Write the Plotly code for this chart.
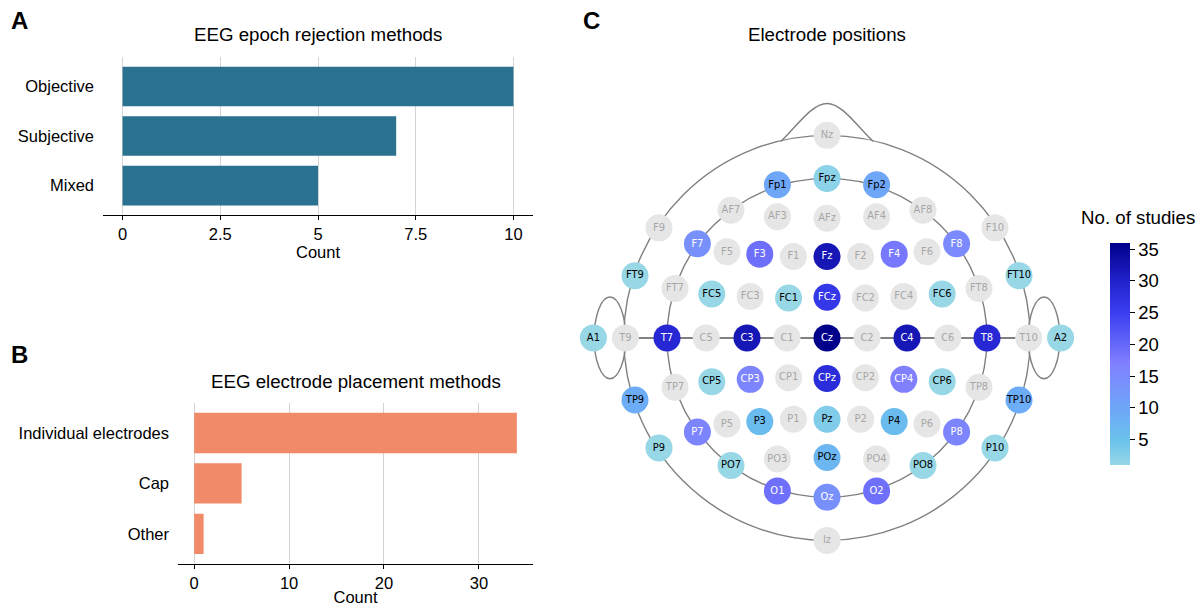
import plotly.graph_objects as go

# ---------------- data ----------------
A_categories = ["Objective", "Subjective", "Mixed"]
A_counts = [10, 7, 5]

B_categories = ["Individual electrodes", "Cap", "Other"]
B_counts = [34, 5, 1]

A_ticks = [0, 2.5, 5, 7.5, 10]
A_ticktext = ["0", "2.5", "5", "7.5", "10"]
B_ticks = [0, 10, 20, 30]
cbar_ticks = [5, 10, 15, 20, 25, 30, 35]

# electrode layout (head units: inner circle radius = 1)
el_names = ["Nz", "Fpz", "Fp1", "Fp2", "AF7", "AF3", "AFz", "AF4", "AF8",
            "F9", "F7", "F5", "F3", "F1", "Fz", "F2", "F4", "F6", "F8", "F10",
            "FT9", "FT7", "FC5", "FC3", "FC1", "FCz", "FC2", "FC4", "FC6", "FT8", "FT10",
            "A1", "T9", "T7", "C5", "C3", "C1", "Cz", "C2", "C4", "C6", "T8", "T10", "A2",
            "TP9", "TP7", "CP5", "CP3", "CP1", "CPz", "CP2", "CP4", "CP6", "TP8", "TP10",
            "P9", "P7", "P5", "P3", "P1", "Pz", "P2", "P4", "P6", "P8", "P10",
            "PO7", "PO3", "POz", "PO4", "PO8", "O1", "Oz", "O2", "Iz"]
el_x = [0, 0, -0.31, 0.31, -0.60, -0.31, 0, 0.31, 0.60,
        -1.05, -0.81, -0.625, -0.42, -0.21, 0, 0.21, 0.42, 0.625, 0.81, 1.05,
        -1.20, -0.95, -0.72, -0.48, -0.24, 0, 0.24, 0.48, 0.72, 0.95, 1.20,
        -1.46, -1.26, -1.0, -0.755, -0.5, -0.25, 0, 0.25, 0.5, 0.755, 1.0, 1.26, 1.46,
        -1.20, -0.95, -0.72, -0.48, -0.24, 0, 0.24, 0.48, 0.72, 0.95, 1.20,
        -1.05, -0.81, -0.625, -0.42, -0.21, 0, 0.21, 0.42, 0.625, 0.81, 1.05,
        -0.60, -0.31, 0, 0.31, 0.60, -0.31, 0, 0.31, 0]
el_y = [1.27, 1.0, 0.96, 0.96, 0.80, 0.76, 0.75, 0.76, 0.80,
        0.69, 0.59, 0.54, 0.525, 0.51, 0.51, 0.51, 0.525, 0.54, 0.59, 0.69,
        0.39, 0.31, 0.275, 0.26, 0.25, 0.255, 0.25, 0.26, 0.275, 0.31, 0.39,
        0, 0, 0, 0, 0, 0, 0, 0, 0, 0, 0, 0, 0,
        -0.39, -0.31, -0.275, -0.26, -0.25, -0.255, -0.25, -0.26, -0.275, -0.31, -0.39,
        -0.69, -0.59, -0.54, -0.525, -0.51, -0.51, -0.51, -0.525, -0.54, -0.59, -0.69,
        -0.80, -0.76, -0.75, -0.76, -0.80, -0.96, -1.0, -0.96, -1.27]

# number of studies per electrode (electrodes not listed: not used)
el_studies = {
    "Fpz": 2, "Fp1": 10, "Fp2": 10,
    "F7": 14, "F3": 19, "Fz": 32, "F4": 18, "F8": 15,
    "FT9": 1, "FT10": 1, "FC5": 1, "FC1": 1, "FCz": 26, "FC6": 1,
    "A1": 1, "T7": 29, "C3": 32, "Cz": 36, "C4": 32, "T8": 29, "A2": 1,
    "TP9": 9, "TP10": 9, "CP5": 1, "CP3": 16, "CPz": 28, "CP4": 17, "CP6": 1,
    "P9": 1, "P7": 16, "P3": 6, "Pz": 3, "P4": 6, "P8": 16, "P10": 1,
    "PO7": 1, "POz": 7, "PO8": 1,
    "O1": 19, "Oz": 14, "O2": 19,
}

# ---------------- style ----------------
W, H = 1200, 606
FONT = "Liberation Sans, Arial, Helvetica, sans-serif"
EL_FONT = "DejaVu Sans Condensed, Liberation Sans Narrow, DejaVu Sans Mono, sans-serif"
TICK_SIZE = 16.5
TITLE_SIZE = 18.7
colorscale = [
    [0.0, "#97d7e6"],
    [0.114, "#6ac2ec"],
    [0.257, "#6ea6f8"],
    [0.457, "#8080ff"],
    [0.686, "#3a3ef0"],
    [0.829, "#2222cc"],
    [1.0, "#00008b"],
]
CMIN, CMAX = 1, 36


def px_x(p):
    return p / W


def px_y(p):
    return 1 - p / H


fig = go.Figure()

# Panel A
fig.add_trace(go.Bar(x=A_counts, y=A_categories, orientation="h", width=0.8,
                     marker=dict(color="#2b7190", line=dict(width=0)),
                     xaxis="x", yaxis="y", hoverinfo="skip"))
# Panel B
fig.add_trace(go.Bar(x=B_counts, y=B_categories, orientation="h", width=0.8,
                     marker=dict(color="#f18a68", line=dict(width=0)),
                     xaxis="x2", yaxis="y2", hoverinfo="skip"))

# Panel C electrodes
gx, gy, gt = [], [], []
cx, cy, ct, cv, tc = [], [], [], [], []
for n, x, y in zip(el_names, el_x, el_y):
    v = el_studies.get(n)
    if v is None:
        gx.append(x); gy.append(y); gt.append(n)
    else:
        cx.append(x); cy.append(y); ct.append(n); cv.append(v)
        tc.append("white" if v >= 12 else "black")

fig.add_trace(go.Scatter(x=gx, y=gy, text=gt, mode="markers+text",
                         marker=dict(size=27, color="#e6e6e6", line=dict(width=0)),
                         textfont=dict(family=EL_FONT, size=11, color="#a6a6a6"),
                         textposition="middle center",
                         xaxis="x3", yaxis="y3", hoverinfo="skip"))
fig.add_trace(go.Scatter(x=cx, y=cy, text=ct, mode="markers+text",
                         marker=dict(size=27, color=cv, colorscale=colorscale,
                                     cmin=CMIN, cmax=CMAX, line=dict(width=0),
                                     colorbar=dict(
                                         x=px_x(1110), xanchor="left",
                                         y=px_y(355), yanchor="middle",
                                         len=222, lenmode="pixels",
                                         thickness=20, thicknessmode="pixels",
                                         tickvals=cbar_ticks, ticks="outside",
                                         ticklen=5, tickcolor="black", tickwidth=1,
                                         outlinewidth=0, xpad=0, ypad=0,
                                         tickfont=dict(family=FONT, size=18.5, color="black"))),
                         textfont=dict(family=EL_FONT, size=11, color=tc),
                         textposition="middle center",
                         xaxis="x3", yaxis="y3", hoverinfo="skip"))

# head outline shapes
LINE = dict(color="#808080", width=1.4)
R_OUT = 1.27
shapes = [
    dict(type="circle", xref="x3", yref="y3", x0=-R_OUT, x1=R_OUT, y0=-R_OUT, y1=R_OUT, line=LINE, layer="below"),
    dict(type="circle", xref="x3", yref="y3", x0=-1, x1=1, y0=-1, y1=1, line=LINE, layer="below"),
    dict(type="circle", xref="x3", yref="y3", x0=-1.455, x1=-1.258, y0=-0.256, y1=0.256, line=LINE, layer="below"),
    dict(type="circle", xref="x3", yref="y3", x0=1.258, x1=1.455, y0=-0.256, y1=0.256, line=LINE, layer="below"),
    dict(type="path", xref="x3", yref="y3",
         path="M -0.29,1.231 C -0.2,1.31 -0.1,1.47 0,1.47 C 0.1,1.47 0.2,1.31 0.29,1.231",
         line=LINE, layer="below"),
    dict(type="line", xref="x3", yref="y3", x0=-1.26, x1=1.26, y0=0, y1=0,
         line=dict(color="#808080", width=2), layer="below"),
]

axis_common = dict(showline=True, linecolor="black", linewidth=1.3,
                   ticks="outside", ticklen=4, tickcolor="black", tickwidth=1,
                   showgrid=True, gridcolor="#d4d4d4", gridwidth=1.2, zeroline=False,
                   tickfont=dict(family=FONT, size=TICK_SIZE, color="black"),
                   title=dict(text="Count", font=dict(family=FONT, size=TICK_SIZE, color="black"), standoff=2))
yaxis_common = dict(showline=False, showgrid=False, zeroline=False, ticks="",
                    ticklabelstandoff=8, tickfont=dict(family=FONT, size=TICK_SIZE, color="black"))


def label(text, x, y, size, bold=False):
    return dict(text=f"<b>{text}</b>" if bold else text, x=px_x(x), y=px_y(y),
                xref="paper", yref="paper", xanchor="center", yanchor="middle",
                showarrow=False, font=dict(family=FONT, size=size, color="black"))


fig.update_layout(
    width=W, height=H, margin=dict(l=0, r=0, t=0, b=0),
    paper_bgcolor="white", plot_bgcolor="white", showlegend=False,
    bargap=0.2,
    xaxis=dict(domain=[px_x(103), px_x(533)], range=[-0.5, 10.5], anchor="y",
               tickvals=A_ticks, ticktext=A_ticktext, **axis_common),
    yaxis=dict(domain=[px_y(216), px_y(57)], anchor="x", range=[-0.6, 2.6],
               categoryorder="array", categoryarray=A_categories[::-1], **yaxis_common),
    xaxis2=dict(domain=[px_x(178), px_x(533)], range=[-1.7, 35.7], anchor="y2",
                tickvals=B_ticks, **axis_common),
    yaxis2=dict(domain=[px_y(566), px_y(404)], anchor="x2", range=[-0.6, 2.6],
                categoryorder="array", categoryarray=B_categories[::-1], **yaxis_common),
    xaxis3=dict(domain=[px_x(827 - 256), px_x(827 + 256)], range=[-1.6, 1.6], anchor="y3",
                visible=False, fixedrange=True),
    yaxis3=dict(domain=[px_y(339 + 256), px_y(339 - 256)], range=[-1.6, 1.6], anchor="x3",
                visible=False, fixedrange=True),
    shapes=shapes,
    annotations=[
        label("A", 19, 21, 24, bold=True),
        label("B", 19, 356, 24, bold=True),
        label("C", 591, 21, 24, bold=True),
        label("EEG epoch rejection methods", 318, 35, TITLE_SIZE),
        label("EEG electrode placement methods", 356, 383, TITLE_SIZE),
        label("Electrode positions", 827, 35, TITLE_SIZE),
        label("No. of studies", 1138, 218, TITLE_SIZE),
    ],
)

fig.write_html("out.html")
